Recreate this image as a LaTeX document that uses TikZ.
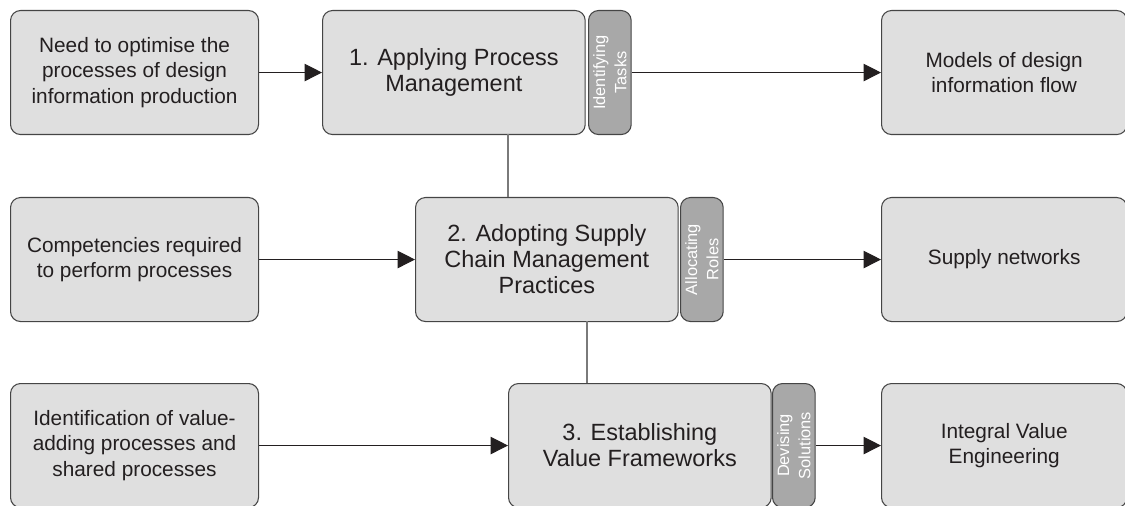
\documentclass[tikz,border=0pt]{standalone}
\usepackage{fontspec}
\setmainfont{Liberation Sans}
\usetikzlibrary{arrows.meta}
\definecolor{boxfill}{HTML}{DFDFDF}
\definecolor{tabfill}{HTML}{A8A8A8}
\definecolor{edge}{HTML}{454545}
\definecolor{ink}{HTML}{231F20}
\definecolor{vline}{HTML}{7A7A7A}
\tikzset{
  outbox/.style={draw=edge, line width=0.8pt, fill=boxfill, rounded corners=7.5pt,
    minimum width=186pt, minimum height=93pt, inner sep=0pt, text=ink,
    align=center, font=\fontsize{15.6pt}{19.3pt}\selectfont, anchor=north west},
  rightbox/.style={outbox, minimum width=184pt},
  mainbox/.style={draw=edge, line width=0.8pt, fill=boxfill, rounded corners=7.5pt,
    minimum width=197pt, minimum height=93pt, inner sep=0pt, text=ink,
    align=center, font=\fontsize{17.6pt}{19.5pt}\selectfont, anchor=north west},
  tabbox/.style={draw=edge, line width=0.8pt, fill=tabfill, rounded corners=7.5pt,
    minimum width=32pt, minimum height=93pt, inner sep=0pt, anchor=north west},
  tabtext/.style={text=white, rotate=90, align=center, inner sep=0pt,
    font=\fontsize{12.3pt}{16pt}\selectfont},
  arr/.style={draw=ink, line width=0.8pt, -{Triangle[length=13pt,width=13pt]}},
  link/.style={draw=vline, line width=1.2pt}
}
\begin{document}
\begin{tikzpicture}[x=0.75pt,y=-0.75pt]
\useasboundingbox (0,0) rectangle (1125,506);
\clip (0,0) rectangle (1125,506);
% left column
\node[outbox] (in1) at (10,10) {Need to optimise the\\processes of design\\information production};
\node[outbox] (in2) at (10,197) {Competencies required\\to perform processes};
\node[outbox] (in3) at (10,383) {Identification of value-\\adding processes and\\shared processes};
% main boxes
\node[mainbox] (m1) at (322,10) {1. Applying Process\\Management};
\node[mainbox] (m2) at (415,197) {2. Adopting Supply\\Chain Management\\Practices};
\node[mainbox] (m3) at (508,383) {3. Establishing\\Value Frameworks};
% tabs
\node[tabbox] (t1) at (588,10) {};
\node[tabtext] at (t1.center) {Identifying\\Tasks};
\node[tabbox] (t2) at (680,197) {};
\node[tabtext] at (t2.center) {Allocating\\Roles};
\node[tabbox] (t3) at (772,383) {};
\node[tabtext] at (t3.center) {Devising\\Solutions};
% right column
\node[rightbox] (o1) at (881,10) {Models of design\\information flow};
\node[rightbox] (o2) at (881,197) {Supply networks};
\node[rightbox] (o3) at (881,383) {Integral Value\\Engineering};
% connectors
\draw[arr] (in1.east) -- (m1.west);
\draw[arr] (in2.east) -- (m2.west);
\draw[arr] (in3.east) -- (m3.west);
\draw[arr] (t1.east) -- (o1.west);
\draw[arr] (t2.east) -- (o2.west);
\draw[arr] (t3.east) -- (o3.west);
\coordinate (c1) at (508,134);
\coordinate (c2) at (508,197);
\coordinate (c3) at (587,321);
\coordinate (c4) at (587,383);
\draw[link] (c1) -- (c2);
\draw[link] (c3) -- (c4);
\end{tikzpicture}
\end{document}
